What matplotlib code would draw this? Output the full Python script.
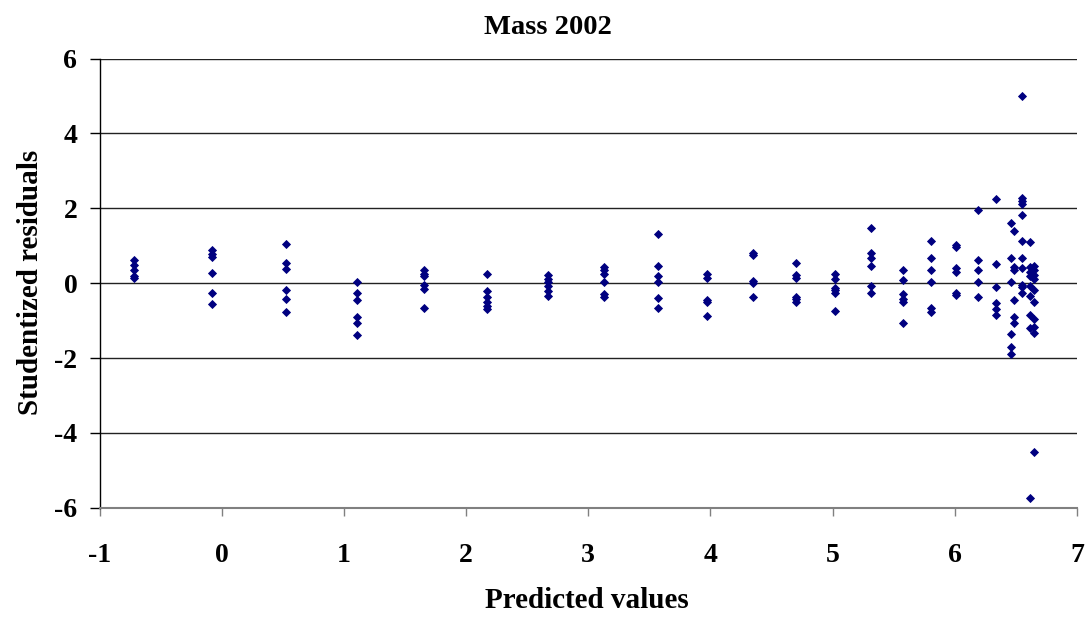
import matplotlib
matplotlib.use("Agg")
import matplotlib.pyplot as plt
import numpy as np

plt.rcParams['font.family'] = ['Liberation Serif', 'DejaVu Serif']

# Predicted value of each group and the studentized residuals observed at it
predicted = [-0.715, -0.08, 0.526, 1.105, 1.655, 2.174, 2.668, 3.131, 3.568,
             3.972, 4.348, 4.70, 5.019, 5.311, 5.573, 5.805, 6.012, 6.191,
             6.336, 6.457, 6.487, 6.55, 6.62, 6.645]
residuals = [
    [0.62, 0.49, 0.34, 0.18, 0.13],
    [0.89, 0.78, 0.69, 0.27, -0.25, -0.55],
    [1.05, 0.55, 0.37, -0.18, -0.42, -0.78],
    [0.03, -0.27, -0.45, -0.89, -1.07, -1.38],
    [0.34, 0.25, 0.19, -0.05, -0.16, -0.67],
    [0.25, -0.20, -0.36, -0.49, -0.60, -0.69],
    [0.22, 0.10, 0.02, -0.07, -0.22, -0.34],
    [0.42, 0.34, 0.24, 0.02, -0.29, -0.36],
    [1.31, 0.46, 0.18, 0.04, -0.40, -0.67],
    [0.25, 0.13, -0.45, -0.49, -0.88],
    [0.80, 0.75, 0.06, 0.00, -0.36],
    [0.55, 0.22, 0.13, -0.36, -0.43, -0.49],
    [0.24, 0.11, -0.13, -0.18, -0.25, -0.73],
    [1.47, 0.82, 0.68, 0.47, -0.07, -0.25],
    [0.35, 0.09, -0.29, -0.43, -0.49, -1.05],
    [1.13, 0.68, 0.34, 0.03, -0.67, -0.76],
    [1.02, 0.98, 0.40, 0.31, -0.25, -0.31],
    [1.95, 0.62, 0.34, 0.04, -0.37],
    [2.24, 0.51, -0.11, -0.53, -0.69, -0.85],
    [1.60, 0.66, 0.02, -1.35, -1.71, -1.89],
    [1.40, 0.43, 0.34, -0.46, -0.91, -1.07],
    [5.01, 2.27, 2.20, 2.11, 1.82, 1.14, 0.67, 0.40, -0.05, -0.09, -0.25],
    [1.09, 0.43, 0.31, 0.18, -0.07, -0.34, -0.85, -1.20, -5.75],
    [0.46, 0.35, 0.22, 0.11, -0.18, -0.49, -0.96, -1.16, -1.33, -4.51],
]

x_ticks = [-1, 0, 1, 2, 3, 4, 5, 6, 7]
y_ticks = [-6, -4, -2, 0, 2, 4, 6]

xs = np.concatenate([[p] * len(r) for p, r in zip(predicted, residuals)])
ys = np.concatenate(residuals)

fig = plt.figure(figsize=(10.89, 6.17), dpi=100)
ax = fig.add_axes([0.0914, 0.177, 0.8975, 0.728])

ax.plot(xs, ys, linestyle='none', marker='D', markersize=3.6,
        color='#000080', markeredgewidth=0.6, zorder=3)

ax.set_xlim(-1, 7)
ax.set_ylim(-6, 6)
ax.set_xticks(x_ticks)
ax.set_yticks(y_ticks)
ax.set_xticklabels([str(v) for v in x_ticks])
ax.set_yticklabels([str(v) for v in y_ticks])

ax.yaxis.grid(True, color='#222222', linewidth=1.0, zorder=1)
ax.set_axisbelow(True)

for side in ('top', 'right'):
    ax.spines[side].set_visible(False)
ax.spines['left'].set_color('black')
ax.spines['left'].set_linewidth(1.0)
ax.spines['bottom'].set_color('#808080')
ax.spines['bottom'].set_linewidth(1.5)

ax.tick_params(axis='x', direction='out', length=6, width=1, color='#808080',
               pad=19, labelsize=20)
ax.tick_params(axis='y', direction='out', length=7, width=1, color='black',
               pad=9, labelsize=20)
for lab in ax.get_xticklabels() + ax.get_yticklabels():
    lab.set_fontweight('bold')

fig.text(0.503, 0.956, 'Mass 2002', ha='center', va='center',
         fontsize=20.5, fontweight='bold')
fig.text(0.539, 0.027, 'Predicted values', ha='center', va='center',
         fontsize=21, fontweight='bold')
fig.text(0.028, 0.543, 'Studentized residuals', ha='center', va='center',
         rotation=90, fontsize=21, fontweight='bold')

fig.savefig('out.png', dpi=100)
